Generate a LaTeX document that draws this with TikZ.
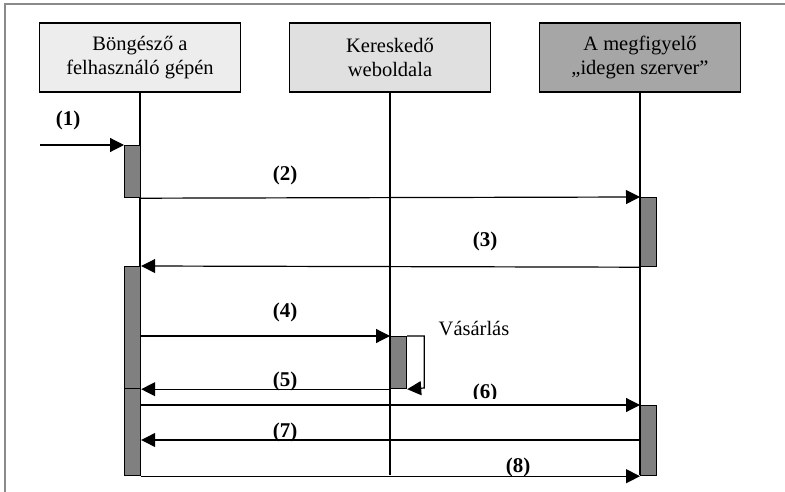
\documentclass[tikz,border=0pt]{standalone}
\usepackage{fontspec}
\setmainfont{Liberation Serif}
\usetikzlibrary{arrows.meta}
\definecolor{actgray}{HTML}{808080}
\definecolor{boxa}{HTML}{EDEDED}
\definecolor{boxb}{HTML}{E0E0E0}
\definecolor{boxc}{HTML}{A6A6A6}
\definecolor{framegray}{HTML}{8A8A8A}
\begin{document}
\begin{tikzpicture}[x=1pt,y=-1pt,
  actor/.style={draw, line width=1.6pt, minimum width=201pt, minimum height=69pt, align=center, font=\fontsize{20.5}{23.5}\selectfont, inner sep=0pt},
  act/.style={draw, fill=actgray, line width=1.2pt, minimum width=16pt, inner sep=0pt, anchor=north west},
  msg/.style={line width=1.2pt, -{Triangle[length=14pt,width=14pt]}},
  lbl/.style={font=\fontsize{21}{24}\selectfont\bfseries, inner sep=0pt},
  life/.style={line width=1.2pt}]
\useasboundingbox (0,0) rectangle (785,492);
\fill[white] (0,0) rectangle (785,492);
\draw[framegray, line width=1.6pt] (5,492) -- (5,4) -- (785,4);

% actors
\node[actor, fill=boxa] (b1) at (140,57.5) {Böngésző a\\felhasználó gépén};
\node[actor, fill=boxb] (b2) at (390,57.5) {Kereskedő\\weboldala};
\node[actor, fill=boxc] (b3) at (640,57.5) {A megfigyelő\\„idegen szerver”};

% lifeline ends
\coordinate (e1) at (140,475);
\coordinate (e2) at (390,475);
\coordinate (e3) at (640,475);
\draw[life] (b1.south) -- (e1);
\draw[life] (b2.south) -- (e2);
\draw[life] (b3.south) -- (e3);

% activations
\node[act, minimum height=52pt] (a1) at (124,145) {};
\node[act, minimum height=69pt] (s1) at (640,197) {};
\node[act, minimum height=122pt] (a2) at (124,266) {};
\node[act, minimum height=52pt] (m1) at (390,336) {};
\node[act, minimum height=87pt] (a3) at (124,388) {};
\node[act, minimum height=70pt] (s2) at (640,405) {};

% labels
\node[lbl] (l1) at (68,120) {(1)};
\node[lbl] (l2) at (285,175) {(2)};
\node[lbl] (l3) at (485,241) {(3)};
\node[lbl] (l4) at (285,312) {(4)};
\node[lbl] (l5) at (285,381) {(5)};
\begin{scope}
\clip (460,370) rectangle (510,398);
\node[lbl] (l6) at (485,393) {(6)};
\end{scope}
\node[lbl] (l7) at (285,432) {(7)};
\node[lbl] (l8) at (518,467) {(8)};
\node[font=\fontsize{20.5}{23.5}\selectfont, inner sep=0pt] (vas) at (474,329) {Vásárlás};

% messages
\coordinate (start1) at (40,145);
\draw[msg] (start1) -- (a1.north west);
\draw[msg] (a1.south east) -- (s1.north west);
\draw[msg] (s1.south west) -- (a2.north east);
\draw[msg] (a2.east |- m1.north west) -- (m1.north west);
\draw[msg] (m1.north east) -- ++(17,0) -- ++(0,52) -- (m1.south east);
\draw[msg] (m1.south west) -- (a2.south east);
\draw[msg] (a3.east |- s2.north west) -- (s2.north west);
\coordinate (m7) at (640,440);
\draw[msg] (m7) -- (a3.east |- m7);
\draw[msg] (a3.south east) -- (s2.south west);
\end{tikzpicture}
\end{document}
